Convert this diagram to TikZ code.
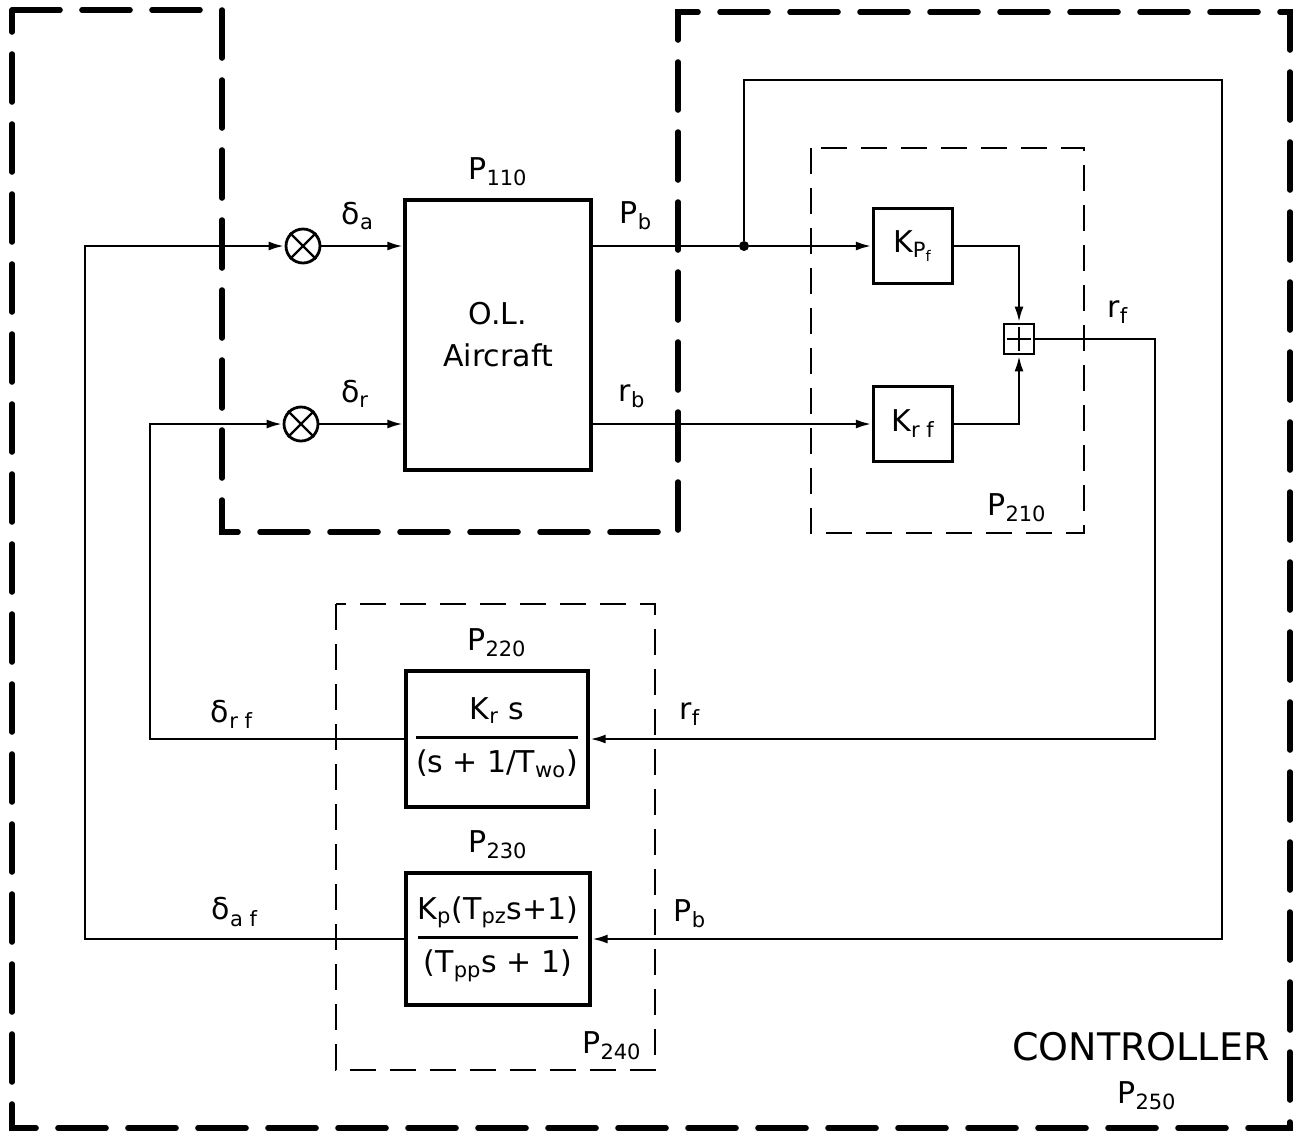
\documentclass[tikz,border=0pt]{standalone}
\usepackage{fontspec}
\setmainfont{DejaVu Sans}
\usetikzlibrary{arrows.meta,positioning}
\newcommand{\lblfont}{\fontsize{15}{18}\selectfont}
\newcommand{\bigfont}{\fontsize{19}{22}\selectfont}
\setlength{\arrayrulewidth}{1.3pt}

\begin{document}
\begin{tikzpicture}[
      x=0.5pt,y=-0.5pt,
      box/.style={draw,line width=1.7pt,inner sep=2pt,align=center,font=\lblfont},
      mult/.style={draw,circle,line width=1.4pt,minimum size=17pt,inner sep=0pt},
      sumbox/.style={draw,line width=1.4pt,minimum size=15pt,inner sep=0pt},
      dot/.style={circle,fill,inner sep=0pt,minimum size=5pt},
      lbl/.style={font=\lblfont,inner sep=1pt},
      arr/.style={-{Latex[length=8pt,width=4.5pt]},line width=1.4pt},
      wire/.style={line width=1.4pt},
      outerdash/.style={line width=2.8pt,dash pattern=on 24pt off 11pt,line cap=round},
      innerdash/.style={line width=1.1pt,dash pattern=on 13pt off 7pt}]
    \path[fill=white,use as bounding box] (0,0) rectangle (1299,1137);

    % controller outline with the aircraft notch, and the two sub-blocks
    \draw[outerdash] (12,10) -- (222,10) -- (222,532) -- (678,532) -- (678,12)
      -- (1290,12) -- (1290,1128) -- (12,1128) -- cycle;
    \draw[innerdash] (811,148) rectangle (1084,533);
    \draw[innerdash] (336,604) rectangle (655,1070);

    % blocks
    \node[box,minimum width=93pt,minimum height=135pt] (plant) at (498,335)
      {O.L.\\[3pt]Aircraft};
    \node[box,minimum width=39.5pt,minimum height=37.5pt] (kpf) at (913,246)
      {K\textsubscript{P\textsubscript{f}}};
    \node[box,minimum width=39.5pt,minimum height=37.5pt] (krf) at (913,424)
      {K\textsubscript{r f}};
    \node[sumbox] (sum) at (1019,339) {};
    \draw[line width=1.1pt,shorten <=2pt,shorten >=2pt] (sum.north) -- (sum.south);
    \draw[line width=1.1pt,shorten <=2pt,shorten >=2pt] (sum.west) -- (sum.east);
    \node[box,minimum width=91pt,minimum height=68pt] (washout) at (497,739)
      {\begin{tabular}{@{}c@{}}K\textsubscript{r} s\\[3pt]\hline
       \rule{0pt}{17pt}(s + 1/T\textsubscript{wo})\end{tabular}};
    \node[box,minimum width=92pt,minimum height=66pt] (lead) at (498,939)
      {\begin{tabular}{@{}c@{}}K\textsubscript{p}(T\textsubscript{pz}s+1)\\[3pt]\hline
       \rule{0pt}{17pt}(T\textsubscript{pp}s + 1)\end{tabular}};

    % multipliers
    \node[mult] (ma) at (303,246) {};
    \node[mult] (mr) at (301,424) {};
    \draw[line width=1.1pt] (ma.45) -- (ma.225) (ma.135) -- (ma.315);
    \draw[line width=1.1pt] (mr.45) -- (mr.225) (mr.135) -- (mr.315);

    % corners of the loops
    \node[dot] (tap) at (744,246) {};
    \coordinate (tapup) at (744,80);
    \coordinate (pbcorner) at (1222,80);
    \coordinate (rfcorner) at (1155,339);
    \coordinate (drcorner) at (150,424);
    \coordinate (dacorner) at (85,246);

    % forward path
    \draw[arr] (ma) -- (plant.west |- ma);
    \draw[arr] (mr) -- (plant.west |- mr);
    \draw[wire] (plant.east |- tap) -- (tap);
    \draw[arr] (tap) -- (kpf);
    \draw[arr] (plant.east |- mr) -- (krf);
    \draw[arr] (kpf) -| (sum);
    \draw[arr] (krf) -| (sum);

    % feedback
    \draw[arr] (sum) -- (rfcorner) |- (washout);
    \draw[arr] (tap) -- (tapup) -- (pbcorner) |- (lead);
    \draw[arr] (washout) -| (drcorner) -- (mr);
    \draw[arr] (lead) -| (dacorner) -- (ma);

    % labels
    \node[lbl,above=5pt of plant] (p110) {P\textsubscript{110}};
    \node[lbl] (da) at (358,216) {δ\textsubscript{a}};
    \node[lbl] (dr) at (355,394) {δ\textsubscript{r}};
    \node[lbl] (pb) at (636,216) {P\textsubscript{b}};
    \node[lbl] (rb) at (632,396) {r\textsubscript{b}};
    \node[lbl] (rfsum) at (1118,312) {r\textsubscript{f}};
    \node[lbl] (p210) at (1017,508) {P\textsubscript{210}};
    \node[lbl,above=5pt of washout] (p220) {P\textsubscript{220}};
    \node[lbl,above=5pt of lead] (p230) {P\textsubscript{230}};
    \node[lbl] (drf) at (232,714) {δ\textsubscript{r f}};
    \node[lbl] (daf) at (235,912) {δ\textsubscript{a f}};
    \node[lbl] (rfin) at (690,714) {r\textsubscript{f}};
    \node[lbl] (pbin) at (690,914) {P\textsubscript{b}};
    \node[lbl] (p240) at (612,1046) {P\textsubscript{240}};
    \node[font=\bigfont] (ctrl) at (1141,1047) {CONTROLLER};
    \node[lbl] (p250) at (1147,1096) {P\textsubscript{250}};
\end{tikzpicture}
\end{document}
